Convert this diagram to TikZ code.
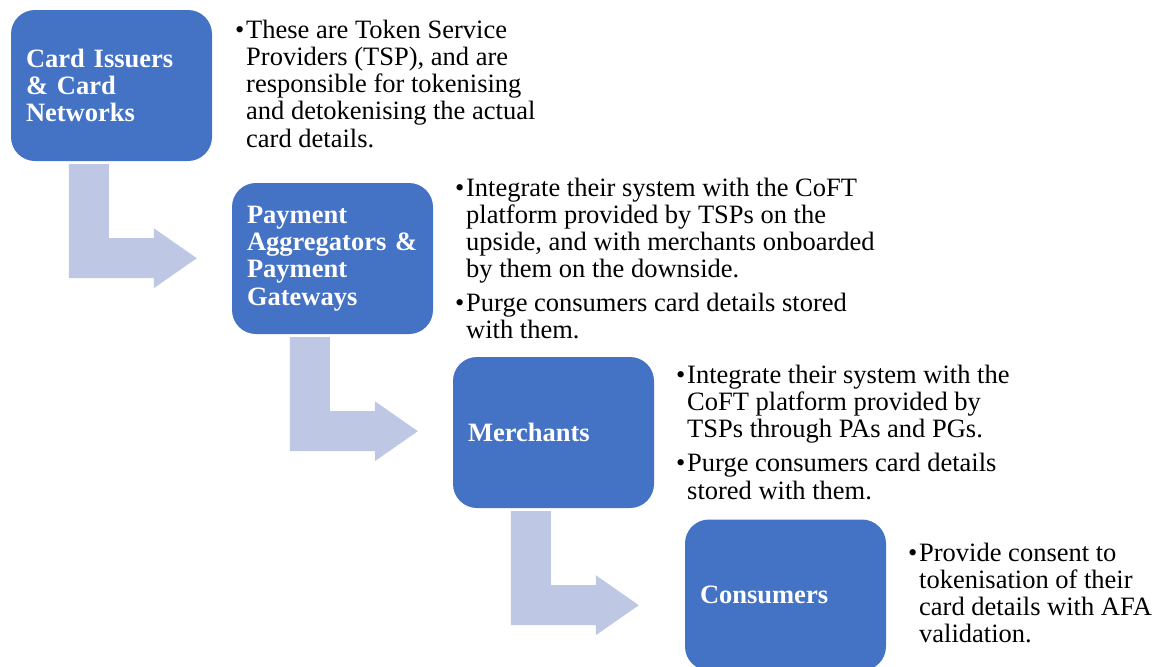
\documentclass[tikz,border=0pt]{standalone}
\usepackage{fontspec}
\setmainfont{Liberation Serif}
\usetikzlibrary{calc}
\definecolor{boxblue}{RGB}{68,114,196}
\definecolor{arrowfill}{RGB}{190,200,228}
\newcommand\bl{\makebox[11pt][l]{\textbullet}}
\newcommand\bentarr[1]{\fill[arrowfill] #1 -- ++(40,0) -- ++(0,74) -- ++(45,0) -- ++(0,-10) -- ++(43,30) -- ++(-43,30) -- ++(0,-10) -- ++(-85,0) -- cycle;}
\tikzset{
  stage/.style={rounded corners=24pt, fill=boxblue, draw=none, minimum width=201pt, minimum height=151pt,
    text width=171pt, inner xsep=15pt, inner ysep=0pt, align=left, text=white,
    font=\fontsize{26.5}{27.3}\selectfont\bfseries},
  bul/.style={anchor=base west, inner sep=0pt, font=\fontsize{26.5}{27.3}\selectfont, text=black}
}
\begin{document}
\begin{tikzpicture}[x=1pt,y=-1pt]
\useasboundingbox (0,0) rectangle (1160,667);
% stage boxes
\node[stage] (b1) at (111.5,85.5) {Card Issuers\\ \& Card\\ Networks};
\node[stage] (b2) at (332.5,258.5) {Payment\\ Aggregators \&\\ Payment\\ Gateways};
\node[stage] (b3) at (553.5,432.5) {Merchants};
\node[stage] (b4) at (785.5,595) {Consumers};
% bent arrows
\bentarr{($(b1.south west)+(58,3)$)}
\bentarr{($(b2.south west)+(58,3)$)}
\bentarr{($(b3.south west)+(58,3)$)}
% descriptions
\node[bul] (d1) at (235,38) {\begin{tabular}[t]{@{}l@{}l@{}}
\bl & These are Token Service\\
 & Providers (TSP), and are\\
 & responsible for tokenising\\
 & and detokenising the actual\\
 & card details.
\end{tabular}};
\node[bul] (d2) at (455,196) {\begin{tabular}[t]{@{}l@{}l@{}}
\bl & Integrate their system with the CoFT\\
 & platform provided by TSPs on the\\
 & upside, and with merchants onboarded\\
 & by them on the downside.\\[6pt]
\bl & Purge consumers card details stored\\
 & with them.
\end{tabular}};
\node[bul] (d3) at (676,383) {\begin{tabular}[t]{@{}l@{}l@{}}
\bl & Integrate their system with the\\
 & CoFT platform provided by\\
 & TSPs through PAs and PGs.\\[7pt]
\bl & Purge consumers card details\\
 & stored with them.
\end{tabular}};
\node[bul] (d4) at (908,561) {\begin{tabular}[t]{@{}l@{}l@{}}
\bl & Provide consent to\\
 & tokenisation of their\\
 & card details with AFA\\
 & validation.
\end{tabular}};
\end{tikzpicture}
\end{document}
